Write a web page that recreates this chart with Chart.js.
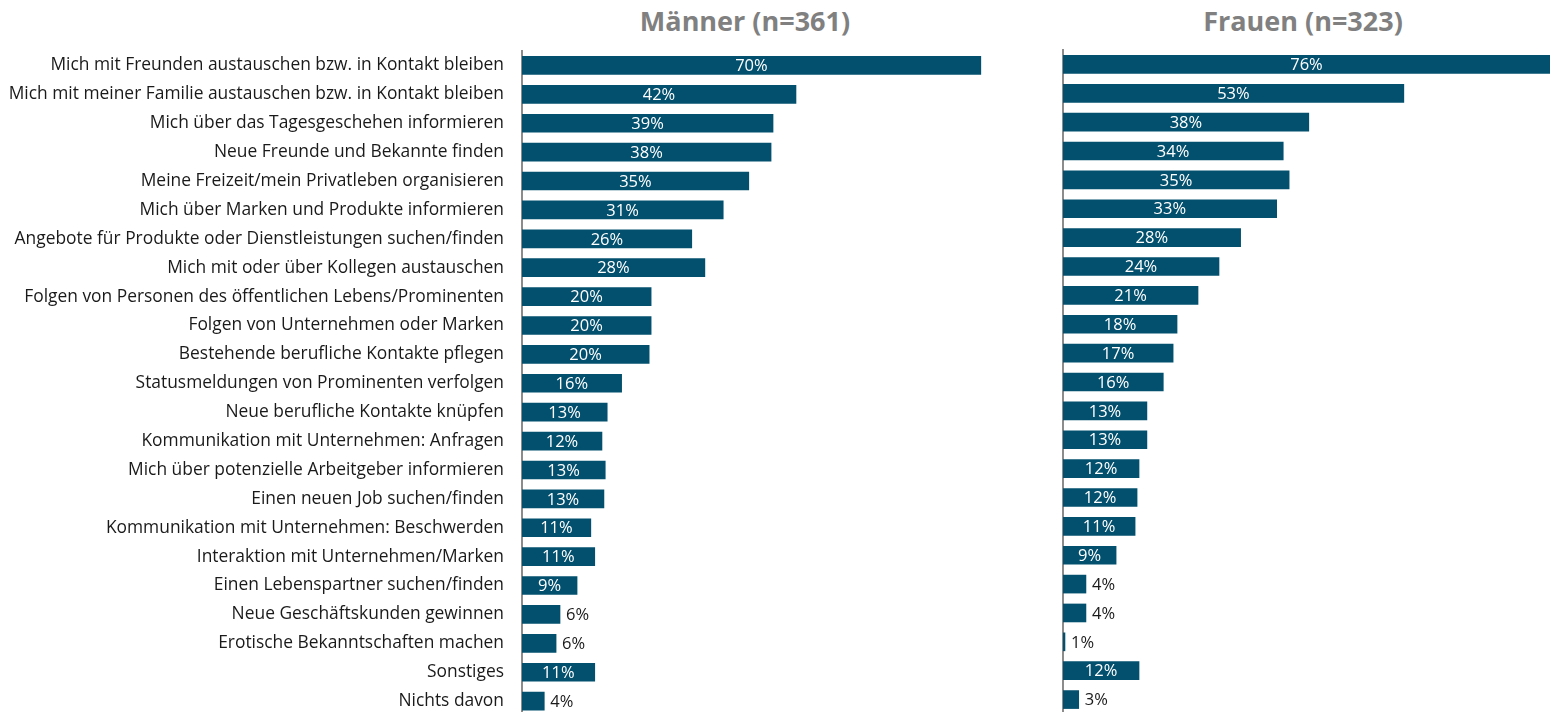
<!DOCTYPE html>
<html>
<head>
<meta charset="utf-8">
<script src="https://cdn.jsdelivr.net/npm/chart.js@4.4.0/dist/chart.umd.min.js"></script>
<style>
  html, body { margin: 0; padding: 0; background: #fff; overflow: hidden; }
  body { width: 1550px; height: 712px; position: relative; font-family: 'Open Sans', sans-serif; }
  .title { position: absolute; top: 2px; font-weight: bold; font-size: 27px; color: #808080; text-align: center; width: 400px; }
  canvas { position: absolute; top: 0; }
</style>
</head>
<body>
<div class="title" style="left:545px">Männer (n=361)</div>
<div class="title" style="left:1103px">Frauen (n=323)</div>
<canvas id="men" width="1009" height="744" style="left:0"></canvas>
<canvas id="women" width="510" height="714" style="left:1040px"></canvas>
<script>
const categories = [
  'Mich mit Freunden austauschen bzw. in Kontakt bleiben',
  'Mich mit meiner Familie austauschen bzw. in Kontakt bleiben',
  'Mich über das Tagesgeschehen informieren',
  'Neue Freunde und Bekannte finden',
  'Meine Freizeit/mein Privatleben organisieren',
  'Mich über Marken und Produkte informieren',
  'Angebote für Produkte oder Dienstleistungen suchen/finden',
  'Mich mit oder über Kollegen austauschen',
  'Folgen von Personen des öffentlichen Lebens/Prominenten',
  'Folgen von Unternehmen oder Marken',
  'Bestehende berufliche Kontakte pflegen',
  'Statusmeldungen von Prominenten verfolgen',
  'Neue berufliche Kontakte knüpfen',
  'Kommunikation mit Unternehmen: Anfragen',
  'Mich über potenzielle Arbeitgeber informieren',
  'Einen neuen Job suchen/finden',
  'Kommunikation mit Unternehmen: Beschwerden',
  'Interaktion mit Unternehmen/Marken',
  'Einen Lebenspartner suchen/finden',
  'Neue Geschäftskunden gewinnen',
  'Erotische Bekanntschaften machen',
  'Sonstiges',
  'Nichts davon'
];

// printed labels (%)
const menLabels = [70, 42, 39, 38, 35, 31, 26, 28, 20, 20, 20, 16, 13, 12, 13, 13, 11, 11, 9, 6, 6, 11, 4];
const womenLabels = [76, 53, 38, 34, 35, 33, 28, 24, 21, 18, 17, 16, 13, 13, 12, 12, 11, 9, 4, 4, 1, 12, 3];

// bar lengths (%)
const menValues = [70, 41.8, 38.3, 38.0, 34.6, 30.7, 25.9, 27.9, 19.7, 19.7, 19.4, 15.2, 13.0, 12.2, 12.7, 12.5, 10.5, 11.1, 8.4, 5.8, 5.2, 11.1, 3.4];
const womenValues = [76, 52.0, 37.5, 33.6, 34.5, 32.6, 27.1, 23.8, 20.6, 17.4, 16.8, 15.3, 12.8, 12.8, 11.6, 11.3, 11.0, 8.1, 3.5, 3.5, 0.3, 11.6, 2.4];

const barColor = '#03506e';
const axisMax = 74.3;

const valueLabels = {
  id: 'valueLabels',
  afterDatasetsDraw(chart) {
    const ctx = chart.ctx;
    const ds = chart.data.datasets[0];
    const meta = chart.getDatasetMeta(0);
    ctx.save();
    ctx.font = '16.5px "Open Sans"';
    ctx.textBaseline = 'middle';
    meta.data.forEach((bar, i) => {
      const text = ds.shown[i] + '%';
      if (ds.data[i] >= 7) {
        ctx.fillStyle = '#ffffff';
        ctx.textAlign = 'center';
        const right = Math.min(bar.x, chart.chartArea.right);
        ctx.fillText(text, (bar.base + right) / 2, bar.y + 1);
      } else {
        ctx.fillStyle = '#1a1a1a';
        ctx.textAlign = 'left';
        ctx.fillText(text, bar.x + 6, bar.y + 1);
      }
    });
    ctx.restore();
  }
};

function makeChart(id, values, shown, showLabels, axisWidth, padTop) {
  return new Chart(document.getElementById(id), {
    type: 'bar',
    data: {
      labels: categories,
      datasets: [{ data: values, shown: shown, backgroundColor: barColor, barThickness: 18 }]
    },
    options: {
      indexAxis: 'y',
      responsive: false,
      animation: false,
      layout: { padding: { top: padTop, bottom: 0, left: 0, right: 0 } },
      plugins: { legend: { display: false }, tooltip: { enabled: false }, title: { display: false } },
      scales: {
        x: { display: false, min: 0, max: axisMax },
        y: {
          afterFit: s => { s.width = axisWidth; },
          grid: { display: false, drawTicks: false },
          border: { display: true, color: '#8c8c8c', width: 2 },
          ticks: {
            display: showLabels,
            padding: 18,
            color: '#1a1a1a',
            font: { family: 'Open Sans', size: 17.4 }
          }
        }
      }
    },
    plugins: [valueLabels]
  });
}

const menChart = makeChart('men', menValues, menLabels, true, 522, 51);
const womenChart = makeChart('women', womenValues, womenLabels, false, 23, 50);
</script>
</body>
</html>
